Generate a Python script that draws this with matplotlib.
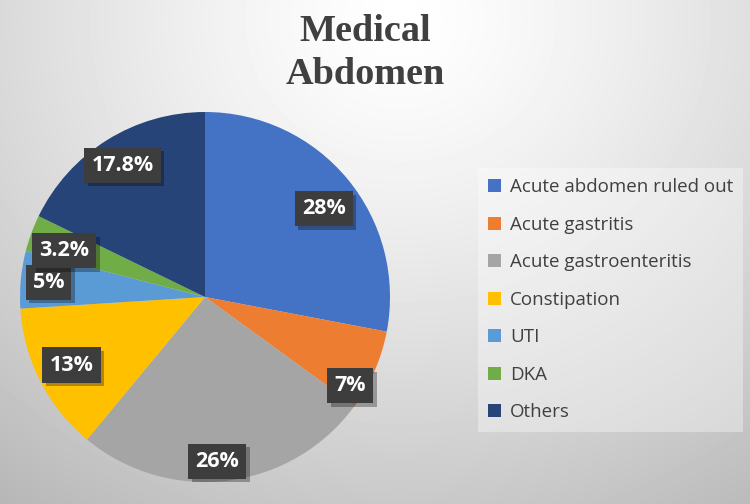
import numpy as np
import matplotlib
matplotlib.use('Agg')
import matplotlib.pyplot as plt
import matplotlib.patheffects as pe

categories = ['Acute abdomen ruled out', 'Acute gastritis', 'Acute gastroenteritis',
              'Constipation', 'UTI', 'DKA', 'Others']
shares = [28, 7, 26, 13, 5, 3.2, 17.8]
colors = ['#4472c4', '#ed7d31', '#a5a5a5', '#ffc000', '#5b9bd5', '#70ad47', '#264478']

# label placement tweaks (radius fraction, angle shift in degrees)
label_r = [0.80, 0.92, 0.89, 0.81, 0.85, 0.80, 0.84]
label_shift = [-3, -8, -3, 0, 0, 2, 0]

fig = plt.figure(figsize=(7.5, 5.04), dpi=100)

# background radial gradient
bg = fig.add_axes([0, 0, 1, 1])
yy, xx = np.mgrid[0:504, 0:750]
d = np.hypot(xx - 400, (yy - 20) * 1.1)
g = np.clip(1.0 - 0.26 * (d / 620) ** 1.3, 0.7, 1.0)
bg.imshow(g, cmap='gray', vmin=0, vmax=1, extent=[0, 750, 504, 0], aspect='auto')
bg.set_xlim(0, 750)
bg.set_ylim(504, 0)
bg.axis('off')

fig.text(0.487, 0.972, 'Medical\nAbdomen', ha='center', va='top',
         fontsize=27.5, fontweight='bold', family='Liberation Serif',
         color='#404040', linespacing=1.28)

ax = fig.add_axes([20 / 750, (504 - 297 - 185) / 504, 370 / 750, 370 / 504])
wedges, _ = ax.pie(shares, colors=colors, startangle=90, counterclock=False,
                   radius=1.0, wedgeprops=dict(linewidth=0))
ax.set_xlim(-1, 1)
ax.set_ylim(-1, 1)
ax.set_aspect('equal')

total = sum(shares)
start = 90.0
for i, v in enumerate(shares):
    mid = start - v / total * 360 / 2 + label_shift[i]
    start -= v / total * 360
    x = label_r[i] * np.cos(np.radians(mid))
    y = label_r[i] * np.sin(np.radians(mid))
    t = ax.text(x, y, f'{v:g}%', ha='center', va='center',
                fontsize=15.5, fontweight='bold', family='Open Sans', color='white',
                bbox=dict(boxstyle='square,pad=0.33', fc='#3d3d3d', ec='none'))
    t.get_bbox_patch().set_path_effects([
        pe.SimplePatchShadow(offset=(2.5, -2.5), shadow_rgbFace='black', alpha=0.3),
        pe.Normal()])

handles = [plt.Rectangle((0, 0), 1, 1, fc=c, ec='none') for c in colors]
leg = fig.legend(handles, categories, loc='upper left',
                 bbox_to_anchor=(478 / 750, 1 - 168 / 504), borderaxespad=0,
                 frameon=True, fancybox=False,
                 prop=dict(family='Open Sans', size=13.5),
                 handlelength=0.7, handleheight=0.7, handletextpad=0.45,
                 labelspacing=1.04, borderpad=0.55, labelcolor='#404040')
leg.get_frame().set_facecolor('#ffffff')
leg.get_frame().set_alpha(0.35)
leg.get_frame().set_edgecolor('none')

fig.savefig('out.png', dpi=100)
